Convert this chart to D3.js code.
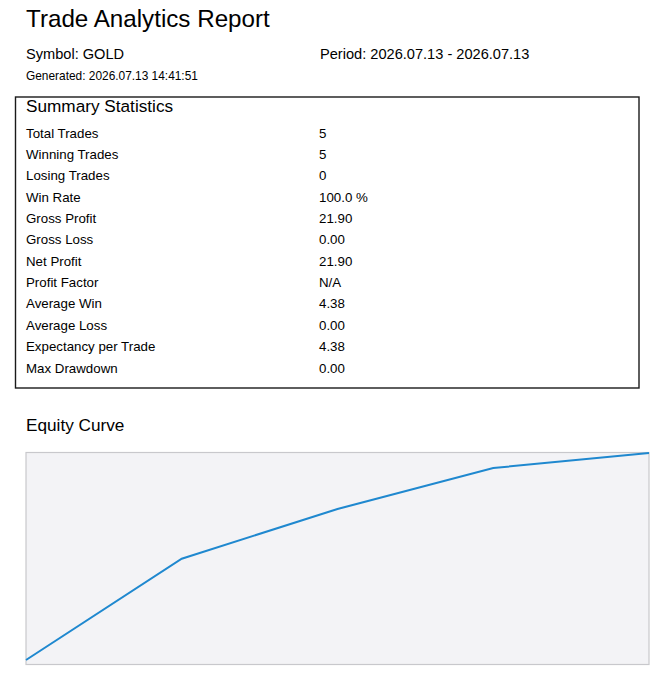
<!DOCTYPE html>
<html><head><meta charset="utf-8">
<script src="https://cdn.jsdelivr.net/npm/d3@7"></script>
<style>body{margin:0;background:#fff;}svg{display:block;font-family:"Liberation Sans",Arial,sans-serif;}</style>
</head><body>
<svg id="c" width="664" height="676"></svg>
<script>
const title = "Trade Analytics Report";
const symbolText = "Symbol: GOLD";
const periodText = "Period: 2026.07.13 - 2026.07.13";
const generatedText = "Generated: 2026.07.13 14:41:51";
const statLabels = ["Total Trades","Winning Trades","Losing Trades","Win Rate","Gross Profit","Gross Loss","Net Profit","Profit Factor","Average Win","Average Loss","Expectancy per Trade","Max Drawdown"];
const statValues = ["5","5","0","100.0 %","21.90","0.00","21.90","N/A","4.38","0.00","4.38","0.00"];
const tradeIndex = [1,2,3,4,5];
const equity = [4.38,12.95,17.16,20.63,21.90];

const svg = d3.select("#c");
svg.append("text").attr("x",26).attr("y",27).attr("font-size",24.2).attr("fill","#000").text(title);
svg.append("text").attr("x",26).attr("y",59).attr("font-size",14.6).text(symbolText);
svg.append("text").attr("x",320).attr("y",59).attr("font-size",14.6).text(periodText);
svg.append("text").attr("x",26).attr("y",80).attr("font-size",11.9).text(generatedText);

svg.append("rect").attr("x",15.5).attr("y",97).attr("width",623.5).attr("height",291)
  .attr("fill","none").attr("stroke","#1a1a1a").attr("stroke-width",1.4);
svg.append("text").attr("x",26).attr("y",112).attr("font-size",17.2).text("Summary Statistics");

const rowY = d3.scalePoint().domain(d3.range(statLabels.length)).range([137.5,372.5]);
const rows = svg.append("g").selectAll("g").data(statLabels).join("g");
rows.append("text").attr("x",26).attr("y",(d,i)=>rowY(i)).attr("font-size",13.3).text(d=>d);
rows.append("text").attr("x",319).attr("y",(d,i)=>rowY(i)).attr("font-size",13.3).text((d,i)=>statValues[i]);

svg.append("text").attr("x",26).attr("y",431).attr("font-size",17.2).text("Equity Curve");

svg.append("rect").attr("x",26).attr("y",452.5).attr("width",623).attr("height",212)
  .attr("fill","#f3f3f6").attr("stroke","#c8c8cc").attr("stroke-width",1.2);

const x = d3.scaleLinear().domain(d3.extent(tradeIndex)).range([26,649]);
const y = d3.scaleLinear().domain(d3.extent(equity)).range([660,453]);
svg.append("path").datum(equity)
  .attr("d", d3.line().x((d,i)=>x(tradeIndex[i])).y(d=>y(d)))
  .attr("fill","none").attr("stroke","#1f88cf").attr("stroke-width",2);
</script>
</body></html>
